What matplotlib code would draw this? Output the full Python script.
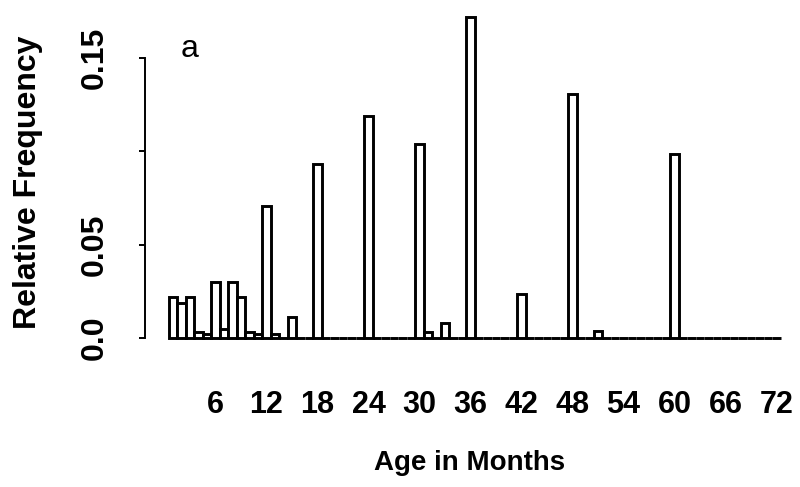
import matplotlib
matplotlib.use("Agg")
import matplotlib.pyplot as plt
import numpy as np

plt.rcParams['font.family'] = ['Liberation Sans', 'DejaVu Sans']

# Relative frequency of reported ages (months); all other months are zero
age_months = [1, 2, 3, 4, 5, 6, 7, 8, 9, 10, 11, 12, 13, 15, 18, 24, 30,
              31, 33, 36, 42, 48, 51, 60]
rel_freq = [0.022, 0.019, 0.022, 0.003, 0.002, 0.030, 0.005, 0.030, 0.022,
            0.003, 0.002, 0.071, 0.002, 0.011, 0.093, 0.119, 0.104,
            0.003, 0.008, 0.172, 0.0235, 0.131, 0.004, 0.0985]
max_month = 72

xtick_values = [6, 12, 18, 24, 30, 36, 42, 48, 54, 60, 66, 72]
ytick_values = [0.0, 0.05, 0.10, 0.15]
ytick_labels = ['0.0', '0.05', '', '0.15']

all_months = np.arange(1, max_month + 1)
heights = np.zeros(max_month)
for m, f in zip(age_months, rel_freq):
    heights[m - 1] = f

fig = plt.figure(figsize=(8, 4.87), dpi=100)
ax = fig.add_axes([145 / 800, 149 / 487, 645 / 800, 328 / 487])

bars = ax.bar(all_months, heights, width=1.0, color='white',
              edgecolor='black', linewidth=2.1, align='center')
for b in bars:
    b.set_clip_on(False)

ax.set_xlim(-2.294, 73.59)
ax.set_ylim(0, 0.1758)

for s in ['top', 'right', 'bottom']:
    ax.spines[s].set_visible(False)
ax.spines['left'].set_bounds(0, 0.15)
ax.spines['left'].set_linewidth(1.4)

ax.set_yticks(ytick_values)
ax.set_yticklabels(ytick_labels, rotation=90, va='center', fontsize=23)
ax.tick_params(axis='y', length=4.5, width=1.4, pad=21)

ax.set_xticks(xtick_values)
ax.set_xticklabels([str(v) for v in xtick_values], fontsize=22)
ax.tick_params(axis='x', length=0, pad=37.5)

for lab in ax.get_xticklabels() + ax.get_yticklabels():
    lab.set_fontweight('bold')

fig.text(470 / 800, 1 - 463 / 487, 'Age in Months', ha='center', va='center',
         fontsize=20, fontweight='bold')
fig.text(28 / 800, 1 - 182 / 487, 'Relative Frequency', rotation=90,
         ha='center', va='center', fontsize=23, fontweight='bold')

ax.text(2.9, 0.155, 'a', ha='center', va='center', fontsize=23)

fig.savefig('out.png', dpi=100)
